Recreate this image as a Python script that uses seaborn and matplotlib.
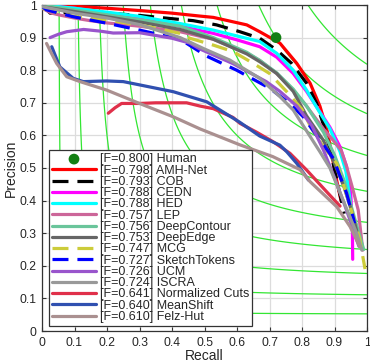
import numpy as np
import pandas as pd
import matplotlib
matplotlib.use("Agg")
import matplotlib.pyplot as plt
import seaborn as sns

# iso-F levels drawn as background guides
iso_f = [0.1, 0.2, 0.3, 0.4, 0.5, 0.6, 0.7, 0.8, 0.9]
tick_vals = [0, 0.1, 0.2, 0.3, 0.4, 0.5, 0.6, 0.7, 0.8, 0.9, 1]
tick_labels = ["0", "0.1", "0.2", "0.3", "0.4", "0.5", "0.6", "0.7", "0.8", "0.9", "1"]

# human performance point
human_r = [0.72]
human_p = [0.90]
human_f = 0.800

methods = ["AMH-Net", "COB", "CEDN", "HED", "LEP", "DeepContour", "DeepEdge",
           "MCG", "SketchTokens", "UCM", "ISCRA", "Normalized Cuts", "MeanShift", "Felz-Hut"]
f_scores = [0.798, 0.793, 0.788, 0.788, 0.757, 0.756, 0.753,
            0.747, 0.727, 0.726, 0.724, 0.641, 0.640, 0.610]

# PR curves (recall, precision)
amh_r = [0.0, 0.1, 0.2, 0.3, 0.4, 0.486, 0.527, 0.63, 0.67, 0.732, 0.784, 0.825, 0.855, 0.876, 0.89, 0.905, 0.92]
amh_p = [1.0, 0.996, 0.99, 0.983, 0.975, 0.966, 0.962, 0.939, 0.918, 0.883, 0.821, 0.76, 0.69, 0.62, 0.55, 0.47, 0.40]

cob_r = [0.0, 0.01, 0.025, 0.06, 0.1, 0.2, 0.3, 0.41, 0.465, 0.537, 0.609, 0.67, 0.722, 0.768, 0.814, 0.845, 0.87, 0.89, 0.91, 0.93]
cob_p = [1.0, 0.99, 0.975, 0.975, 0.978, 0.975, 0.968, 0.957, 0.952, 0.939, 0.918, 0.898, 0.862, 0.821, 0.76, 0.698, 0.62, 0.54, 0.45, 0.36]

cedn_r = [0.0, 0.1, 0.2, 0.3, 0.425, 0.527, 0.6, 0.67, 0.722, 0.773, 0.814, 0.85, 0.886, 0.917, 0.937, 0.95, 0.955, 0.956]
cedn_p = [1.0, 0.99, 0.975, 0.96, 0.935, 0.913, 0.893, 0.872, 0.84, 0.79, 0.735, 0.68, 0.625, 0.565, 0.505, 0.42, 0.32, 0.22]

hed_r = [0.0, 0.1, 0.2, 0.3, 0.425, 0.527, 0.6, 0.67, 0.722, 0.773, 0.814, 0.85, 0.886, 0.917, 0.935, 0.948, 0.96]
hed_p = [1.0, 0.99, 0.978, 0.965, 0.943, 0.923, 0.905, 0.888, 0.852, 0.80, 0.739, 0.678, 0.62, 0.55, 0.49, 0.40, 0.30]

lep_r = [0.0, 0.03, 0.055, 0.1, 0.148, 0.2, 0.3, 0.425, 0.527, 0.63, 0.67, 0.722, 0.773, 0.814, 0.866, 0.9, 0.92, 0.937, 0.955, 0.973, 0.987]
lep_p = [0.99, 0.975, 0.969, 0.96, 0.952, 0.945, 0.935, 0.918, 0.895, 0.852, 0.83, 0.79, 0.739, 0.69, 0.62, 0.58, 0.555, 0.505, 0.44, 0.371, 0.248]

dcont_r = [0.0, 0.1, 0.2, 0.3, 0.425, 0.527, 0.63, 0.67, 0.722, 0.773, 0.814, 0.866, 0.9, 0.93, 0.955, 0.975, 0.99]
dcont_p = [1.0, 0.985, 0.97, 0.955, 0.935, 0.9, 0.855, 0.83, 0.792, 0.742, 0.69, 0.61, 0.54, 0.46, 0.37, 0.30, 0.25]

dedge_r = [0.0, 0.1, 0.2, 0.3, 0.425, 0.527, 0.63, 0.67, 0.722, 0.773, 0.814, 0.865, 0.9, 0.93, 0.955, 0.975]
dedge_p = [0.995, 0.98, 0.964, 0.948, 0.925, 0.895, 0.85, 0.826, 0.79, 0.735, 0.66, 0.586, 0.514, 0.44, 0.36, 0.28]

mcg_r = [0.0, 0.055, 0.1, 0.2, 0.3, 0.425, 0.455, 0.527, 0.588, 0.65, 0.70, 0.753, 0.80, 0.83, 0.866, 0.907, 0.943, 0.978, 0.994]
mcg_p = [0.99, 0.974, 0.965, 0.954, 0.939, 0.913, 0.898, 0.877, 0.857, 0.821, 0.79, 0.734, 0.68, 0.62, 0.565, 0.514, 0.40, 0.279, 0.19]

st_r = [0.0, 0.014, 0.096, 0.2, 0.3, 0.425, 0.507, 0.599, 0.7, 0.76, 0.804, 0.855, 0.896, 0.937, 0.957, 0.962]
st_p = [0.995, 0.985, 0.964, 0.944, 0.923, 0.895, 0.843, 0.80, 0.745, 0.70, 0.657, 0.586, 0.53, 0.423, 0.35, 0.33]

ucm_r = [0.025, 0.05, 0.076, 0.128, 0.178, 0.219, 0.30, 0.40, 0.455, 0.486, 0.588, 0.69, 0.732, 0.784, 0.83, 0.866, 0.9, 0.93, 0.955, 0.975]
ucm_p = [0.90, 0.91, 0.918, 0.925, 0.92, 0.914, 0.915, 0.898, 0.883, 0.865, 0.82, 0.765, 0.735, 0.69, 0.63, 0.555, 0.47, 0.39, 0.32, 0.26]

iscra_r = [0.0, 0.1, 0.2, 0.3, 0.425, 0.5, 0.578, 0.67, 0.732, 0.773, 0.794, 0.855, 0.886, 0.927, 0.968, 0.984]
iscra_p = [0.995, 0.975, 0.96, 0.94, 0.90, 0.865, 0.831, 0.775, 0.719, 0.678, 0.645, 0.55, 0.50, 0.40, 0.30, 0.248]

ncuts_r = [0.204, 0.225, 0.245, 0.30, 0.35, 0.404, 0.445, 0.486, 0.527, 0.588, 0.609, 0.66, 0.712, 0.763, 0.814, 0.876, 0.917]
ncuts_p = [0.668, 0.685, 0.698, 0.698, 0.70, 0.70, 0.70, 0.69, 0.682, 0.655, 0.637, 0.61, 0.58, 0.545, 0.494, 0.427, 0.383]

ms_r = [0.03, 0.055, 0.096, 0.127, 0.199, 0.25, 0.30, 0.404, 0.507, 0.609, 0.67, 0.732, 0.753, 0.784, 0.82]
ms_p = [0.872, 0.81, 0.775, 0.765, 0.767, 0.765, 0.755, 0.734, 0.703, 0.64, 0.598, 0.57, 0.55, 0.514, 0.463]

fh_r = [0.014, 0.03, 0.045, 0.076, 0.117, 0.199, 0.30, 0.404, 0.486, 0.609, 0.71, 0.794, 0.825, 0.907, 0.948, 0.978]
fh_p = [0.882, 0.85, 0.821, 0.78, 0.765, 0.739, 0.698, 0.657, 0.62, 0.571, 0.535, 0.495, 0.458, 0.381, 0.32, 0.258]

recalls = [amh_r, cob_r, cedn_r, hed_r, lep_r, dcont_r, dedge_r, mcg_r, st_r, ucm_r, iscra_r, ncuts_r, ms_r, fh_r]
precisions = [amh_p, cob_p, cedn_p, hed_p, lep_p, dcont_p, dedge_p, mcg_p, st_p, ucm_p, iscra_p, ncuts_p, ms_p, fh_p]

colors = ["#ff0000", "#000000", "#ff00ff", "#00ffff", "#cc6699", "#6ac59b", "#666666",
          "#cccc3a", "#0000ff", "#9955cc", "#999999", "#e0304a", "#3050b0", "#aa9090"]
dashed = ["COB", "MCG", "SketchTokens"]

sns.set_theme(style="white")
plt.rcParams["font.family"] = ["Liberation Sans", "DejaVu Sans"]

fig = plt.figure(figsize=(3.70, 3.63), dpi=100)
ax = fig.add_axes([42 / 370, 32 / 363, 325 / 370, 326 / 363])

# iso-F contours
gr, gp = np.meshgrid(np.linspace(0.005, 1, 400), np.linspace(0.005, 1, 400))
fgrid = 2 * gp * gr / (gp + gr)
ax.contour(gr, gp, fgrid, levels=iso_f, colors="#33e633", linewidths=0.9, zorder=1)

# human
sns.scatterplot(x=human_r, y=human_p, color="#127f12", s=60, edgecolor="none",
                label=f"[F={human_f:.3f}] Human", ax=ax, zorder=20)

for name, f, r, p, c in zip(methods, f_scores, recalls, precisions, colors):
    df = pd.DataFrame({"recall": r, "precision": p})
    ls = (0, (5, 2.8)) if name in dashed else "-"
    sns.lineplot(data=df, x="recall", y="precision", sort=False, estimator=None,
                 color=c, lw=2.3, linestyle=ls, label=f"[F={f:.3f}] {name}", ax=ax, zorder=5)

ax.set_xlim(0, 1)
ax.set_ylim(0, 1)
ax.set_xticks(tick_vals)
ax.set_yticks(tick_vals)
ax.set_xticklabels(tick_labels)
ax.set_yticklabels(tick_labels)
ax.grid(True, color="#dcdcdc", lw=0.9)
ax.set_axisbelow(True)
ax.tick_params(direction="in", length=3, width=0.8, labelsize=8.7, top=True, right=True,
               bottom=True, left=True, color="#333333", pad=4)
for s in ax.spines.values():
    s.set_color("#333333")
    s.set_linewidth(0.9)
ax.set_xlabel("Recall", fontsize=10, labelpad=0)
ax.set_ylabel("Precision", fontsize=10, labelpad=1)

leg = ax.legend(loc="lower left", bbox_to_anchor=(7 / 325, 5 / 326), borderaxespad=0,
                fontsize=9, handlelength=3.5, handletextpad=0.3, labelspacing=-0.06,
                borderpad=0.25, fancybox=False, framealpha=1, edgecolor="#333333")
leg.get_frame().set_linewidth(0.9)
leg.set_zorder(30)

fig.savefig("out.png", dpi=100)
